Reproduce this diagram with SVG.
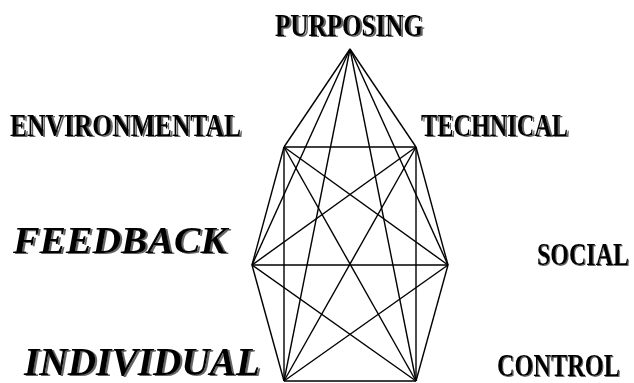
<svg xmlns="http://www.w3.org/2000/svg" width="634" height="383" viewBox="0 0 634 383">
<defs>
<filter id="sh" x="-10%" y="-40%" width="120%" height="180%">
<feOffset in="SourceAlpha" dx="1.5" dy="1" result="o"/>
<feGaussianBlur in="o" stdDeviation="0.7" result="b"/>
<feFlood flood-color="#666"/>
<feComposite in2="b" operator="in" result="s"/>
<feMerge><feMergeNode in="s"/><feMergeNode in="SourceGraphic"/></feMerge>
</filter>
</defs>
<style>
.lbl{font-family:"Liberation Serif","Times New Roman",serif;font-weight:bold;fill:#000;filter:url(#sh)}
.it{font-style:italic}
.e{stroke:#000;stroke-width:1.4;fill:none}
</style>
<rect width="634" height="383" fill="#fff"/>
<g id="connectors" class="e">
<line x1="350" y1="49" x2="284" y2="147"/>
<line x1="350" y1="49" x2="416" y2="147"/>
<line x1="350" y1="49" x2="252" y2="265"/>
<line x1="350" y1="49" x2="448" y2="265"/>
<line x1="350" y1="49" x2="284" y2="381"/>
<line x1="350" y1="49" x2="416" y2="381"/>
<line x1="284" y1="147" x2="416" y2="147"/>
<line x1="284" y1="147" x2="252" y2="265"/>
<line x1="284" y1="147" x2="448" y2="265"/>
<line x1="284" y1="147" x2="284" y2="381"/>
<line x1="284" y1="147" x2="416" y2="381"/>
<line x1="416" y1="147" x2="252" y2="265"/>
<line x1="416" y1="147" x2="448" y2="265"/>
<line x1="416" y1="147" x2="284" y2="381"/>
<line x1="416" y1="147" x2="416" y2="381"/>
<line x1="252" y1="265" x2="448" y2="265"/>
<line x1="252" y1="265" x2="284" y2="381"/>
<line x1="252" y1="265" x2="416" y2="381"/>
<line x1="448" y1="265" x2="284" y2="381"/>
<line x1="448" y1="265" x2="416" y2="381"/>
<line x1="284" y1="381" x2="416" y2="381"/>
</g>
<g id="purposing"><text class="lbl" x="275" y="36" font-size="31" textLength="148" lengthAdjust="spacingAndGlyphs">PURPOSING</text></g>
<g id="environmental"><text class="lbl" x="10" y="136" font-size="32" textLength="231" lengthAdjust="spacingAndGlyphs">ENVIRONMENTAL</text></g>
<g id="technical"><text class="lbl" x="421" y="136" font-size="31" textLength="147" lengthAdjust="spacingAndGlyphs">TECHNICAL</text></g>
<g id="feedback"><text class="lbl it" x="13" y="253" font-size="37" textLength="214" lengthAdjust="spacingAndGlyphs">FEEDBACK</text></g>
<g id="social"><text class="lbl" transform="translate(537,265) scale(0.75,1)" x="0" y="0" font-size="32">SOCIAL</text></g>
<g id="individual"><text class="lbl it" x="24" y="375" font-size="40" textLength="236" lengthAdjust="spacingAndGlyphs">INDIVIDUAL</text></g>
<g id="control"><text class="lbl" transform="translate(497,376) scale(0.76,1)" x="0" y="0" font-size="32">CONTROL</text></g>
</svg>
